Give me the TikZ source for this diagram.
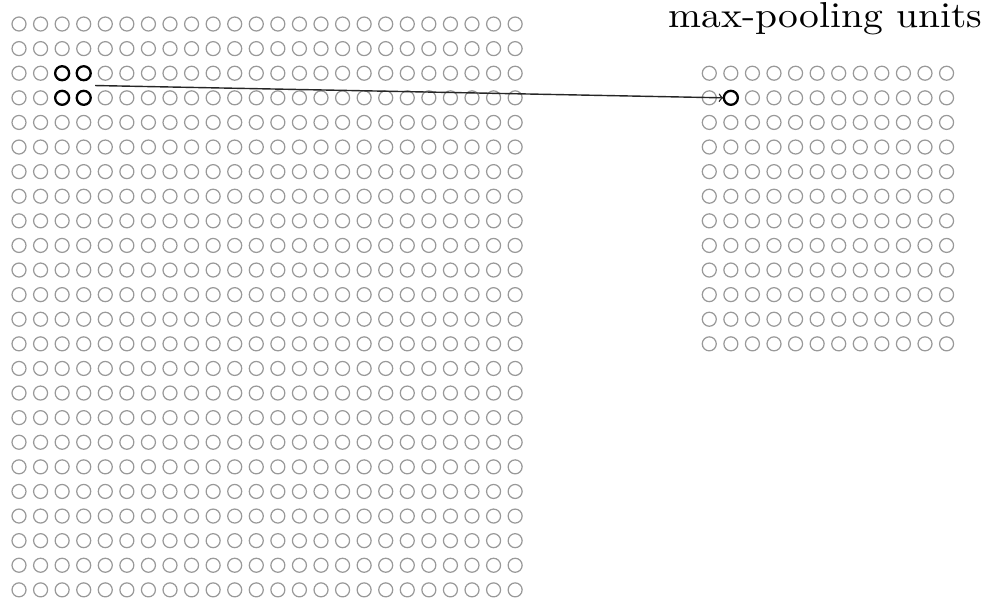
\documentclass[tikz,border=0pt]{standalone}
\usepackage{tikz}
\usetikzlibrary{fit}

\tikzset{
  unit/.style={circle, draw=black!40, line width=0.7pt, minimum size=0.28cm, inner sep=0pt},
  hot/.style={draw=black, line width=1.3pt},
}

\begin{document}
\begin{tikzpicture}[x=0.4314cm, y=-0.492cm]
  \useasboundingbox (-0.881,-0.976) rectangle (45.06,23.50);
  % input layer, 24 x 24
  \foreach \i in {0,...,23}
    \foreach \j in {0,...,23}
      \node[unit] (l-\i-\j) at (\j,\i) {};
  % pooled layer, 12 x 12
  \foreach \i in {0,...,11}
    \foreach \j in {0,...,11}
      \node[unit] (r-\i-\j) at (32+\j,2+\i) {};
  % 2x2 window and the unit it feeds
  \node[fit=(l-2-2)(l-3-3), inner sep=0pt] (win) {};
  \foreach \n in {l-2-2,l-2-3,l-3-2,l-3-3,r-1-1}
    \draw[hot] (\n) circle[radius=0.14cm];
  \draw[->, draw=black!85, line width=0.8pt] ([xshift=2pt]win.east) -- (r-1-1.west);
  \node[anchor=base east, inner sep=0pt, xscale=2.25, yscale=2.05, transform shape] (title) at (44.69,0.16) {max-pooling units};
\end{tikzpicture}
\end{document}
